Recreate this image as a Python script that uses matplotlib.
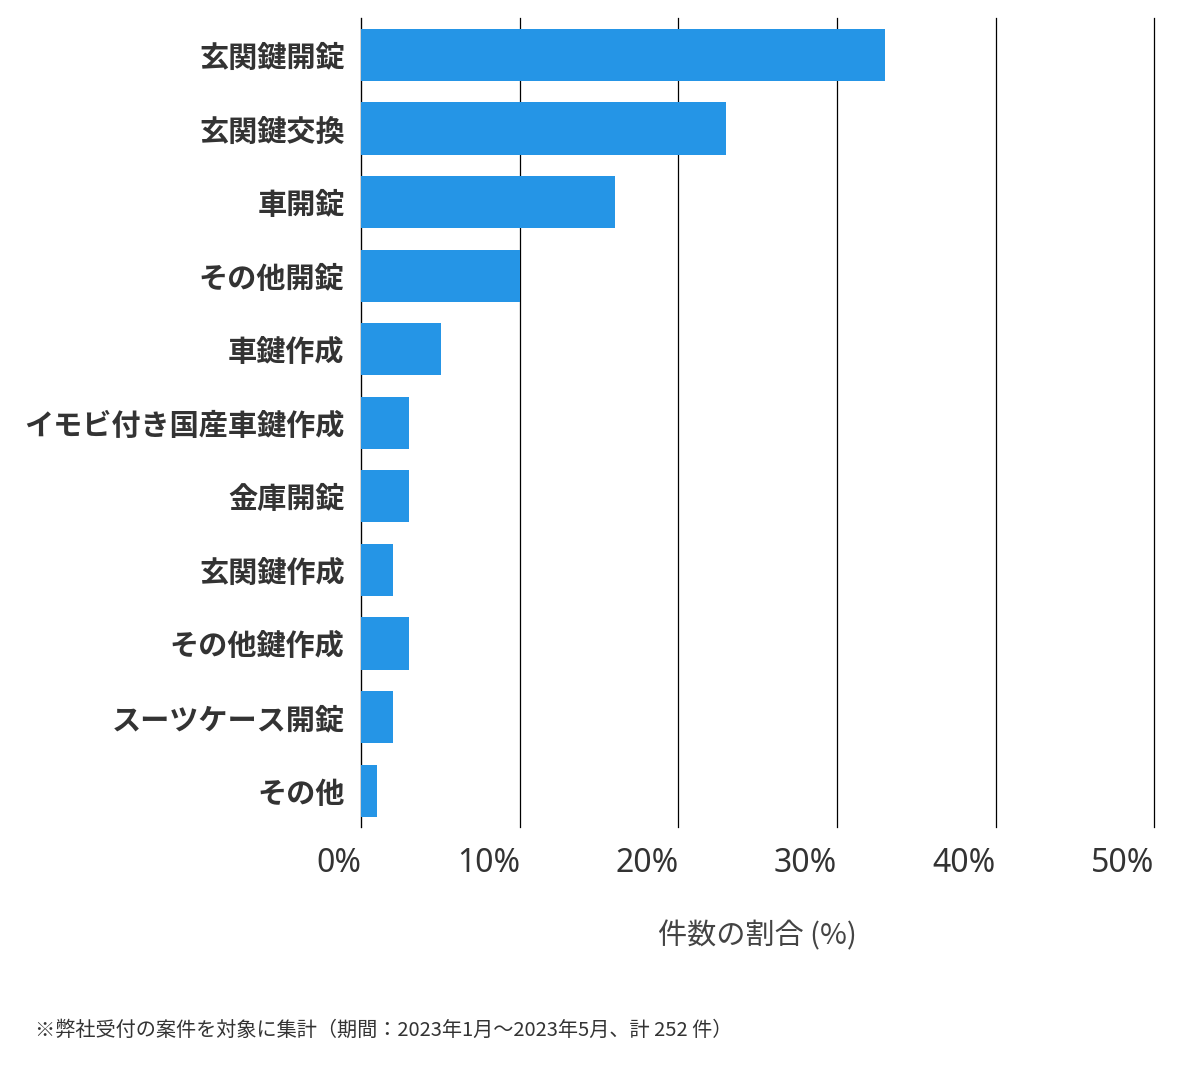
import matplotlib
matplotlib.use("Agg")
import matplotlib.pyplot as plt

plt.rcParams['font.family'] = ['Noto Sans CJK JP', 'DejaVu Sans']

categories = ['玄関鍵開錠', '玄関鍵交換', '車開錠', 'その他開錠', '車鍵作成',
              'イモビ付き国産車鍵作成', '金庫開錠', '玄関鍵作成', 'その他鍵作成',
              'スーツケース開錠', 'その他']
values = [33.0, 23.0, 16.0, 10.0, 5.0, 3.0, 3.0, 2.0, 3.0, 2.0, 1.0]
ticks = [0, 10, 20, 30, 40, 50]
tick_labels = ['0%', '10%', '20%', '30%', '40%', '50%']

fig = plt.figure(figsize=(12, 10.69), dpi=100)
ax = fig.add_axes([0.301, 0.226, 0.661, 0.757])

y = list(range(len(categories)))
ax.barh(y, values, height=0.71, color='#2595E6', zorder=3)
ax.set_ylim(len(categories) - 0.5, -0.5)
ax.set_xlim(0, 50)
ax.set_yticks(y)
ax.set_yticklabels(categories, fontsize=21, fontweight='bold', color='#333333')
ax.set_xticks(ticks)
ax.set_xticklabels(tick_labels, fontsize=23, fontweight='bold', color='#333333',
                   family=['Noto Sans', 'DejaVu Sans'])
ax.tick_params(length=0, pad=12)
ax.tick_params(axis='x', pad=14)
for lab in ax.get_xticklabels():
    lab.set_horizontalalignment('right')
ax.grid(axis='x', color='black', linewidth=0.9, zorder=0)
for gl in ax.get_xgridlines():
    gl.set_clip_on(False)
for s in ['top', 'right', 'bottom']:
    ax.spines[s].set_visible(False)
ax.spines['left'].set_color('black')
ax.set_xlabel('件数の割合 (%)', fontsize=21, color='#444444', labelpad=30)

fig.text(0.029, 0.031, '※弊社受付の案件を対象に集計（期間：2023年1月～2023年5月、計 252 件）',
         fontsize=14.5, color='#333333')

fig.savefig('out.png', dpi=100, facecolor='white')
